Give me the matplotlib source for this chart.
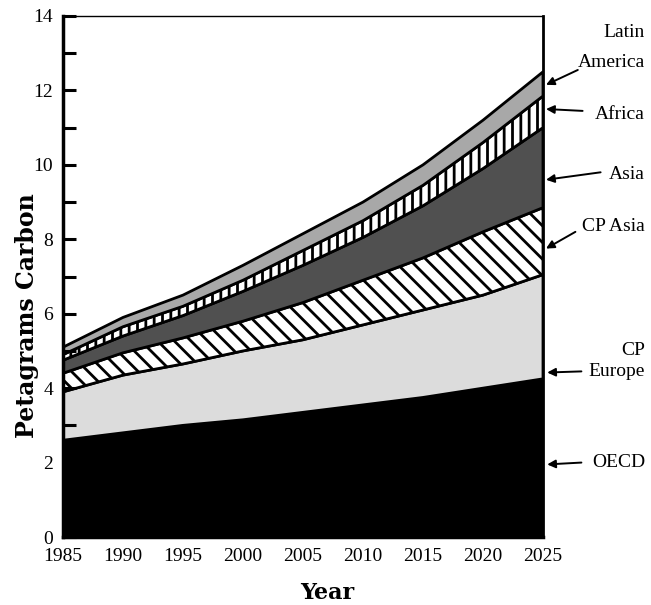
import matplotlib
matplotlib.use("Agg")
import matplotlib.pyplot as plt
from matplotlib.ticker import MultipleLocator
import numpy as np

# ---- data (Petagrams Carbon, per region, stacked) ----
years = [1985, 1990, 1995, 2000, 2005, 2010, 2015, 2020, 2025]
oecd = [2.6, 2.8, 3.0, 3.15, 3.35, 3.55, 3.75, 4.0, 4.25]
cp_europe = [1.3, 1.55, 1.65, 1.85, 1.95, 2.15, 2.35, 2.5, 2.8]
cp_asia = [0.5, 0.6, 0.7, 0.8, 1.0, 1.2, 1.4, 1.7, 1.8]
asia = [0.35, 0.45, 0.6, 0.8, 1.0, 1.15, 1.4, 1.7, 2.15]
africa = [0.15, 0.25, 0.25, 0.3, 0.4, 0.45, 0.55, 0.7, 0.85]
latin_america = [0.2, 0.25, 0.3, 0.4, 0.45, 0.5, 0.55, 0.6, 0.65]

series = [oecd, cp_europe, cp_asia, asia, africa, latin_america]
colors = ["#000000", "#dcdcdc", "#ffffff", "#505050", "#ffffff", "#a8a8a8"]
hatches = ["", "", "\\\\", "", "||", ""]

plt.rcParams["hatch.linewidth"] = 2.0
serif = ["Liberation Serif", "DejaVu Serif"]

fig = plt.figure(figsize=(6.51, 6.05), dpi=100)
ax = fig.add_axes([63 / 651, 68 / 605, 480 / 651, 521 / 605])

ax.stackplot(years, *series, colors=colors, hatch=hatches,
             edgecolor="black", linewidth=2.0)

ax.set_xlim(1985, 2025)
ax.set_ylim(0, 14)
ax.set_xticks(years)
ax.set_xticklabels([str(y) for y in years], fontfamily=serif, fontsize=14)
ax.set_yticks(range(0, 15, 2))
ax.set_yticklabels([str(v) for v in range(0, 15, 2)], fontfamily=serif, fontsize=14)
ax.yaxis.set_minor_locator(MultipleLocator(1))
ax.tick_params(axis="y", which="both", direction="in", length=9, width=2.2,
               left=True, right=False, pad=7)
ax.tick_params(axis="x", which="both", length=0, pad=8)

for side, lw in (("left", 2.5), ("bottom", 2.5), ("right", 2.0), ("top", 1.0)):
    ax.spines[side].set_linewidth(lw)

ax.set_ylabel("Petagrams Carbon", fontfamily="DejaVu Serif", fontweight="bold",
              fontsize=17)
ax.set_xlabel("Year", fontfamily="DejaVu Serif", fontweight="bold",
              fontsize=16)
ax.yaxis.set_label_coords(-0.05, 0.424)
ax.xaxis.set_label_coords(0.55, -0.086)

# ---- right-hand labels with arrows ----
txt_x = 2033.5
labels = [
    ("Latin", 13.55), ("America", 12.75), ("Africa", 11.35), ("Asia", 9.75),
    ("CP Asia", 8.35), ("CP", 5.02), ("Europe", 4.45), ("OECD", 2.0),
]
for s, y in labels:
    ax.text(txt_x, y, s, ha="right", va="center", fontfamily=serif,
            fontsize=14, clip_on=False)

arrows = [
    ((2027.9, 12.55), (2025.25, 12.15)),
    ((2028.3, 11.45), (2025.25, 11.5)),
    ((2029.8, 9.8), (2025.25, 9.6)),
    ((2027.7, 8.2), (2025.25, 7.75)),
    ((2028.2, 4.45), (2025.35, 4.42)),
    ((2028.2, 2.0), (2025.35, 1.95)),
]
for tail, tip in arrows:
    ax.annotate("", xy=tip, xytext=tail, annotation_clip=False,
                arrowprops=dict(arrowstyle="-|>", color="black", lw=1.4,
                                mutation_scale=12, shrinkA=0, shrinkB=0))

fig.savefig("out.png", dpi=100)
